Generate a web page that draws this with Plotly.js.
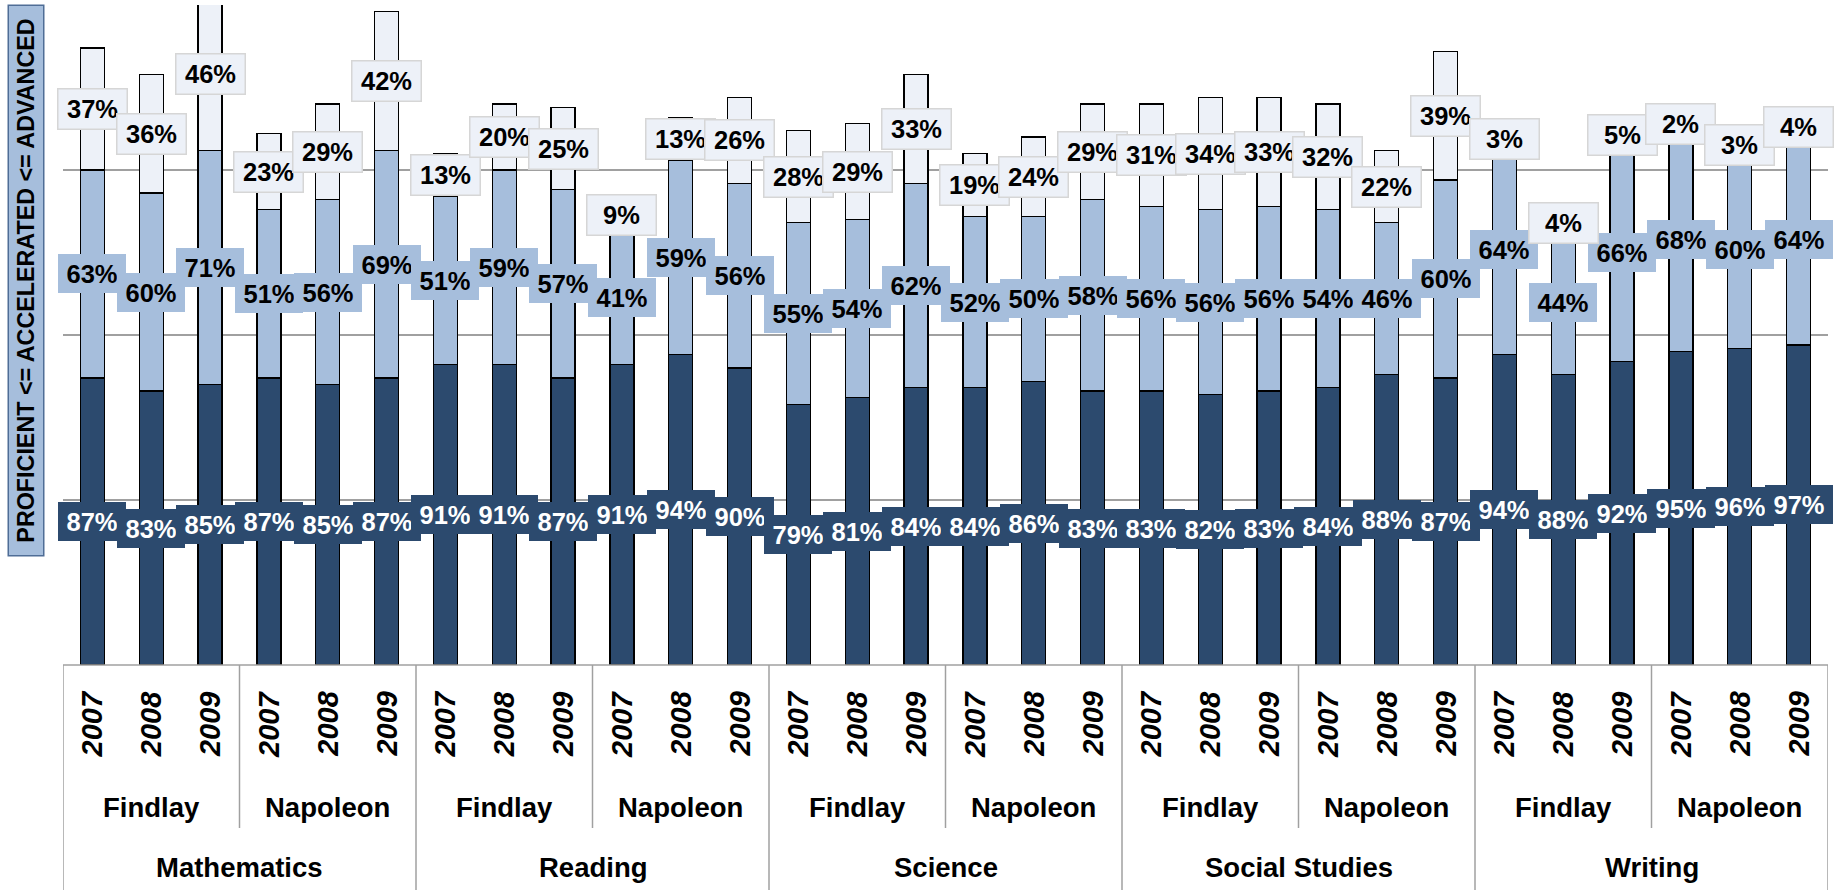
<!DOCTYPE html>
<html>
<head>
<meta charset="utf-8">
<script src="https://cdn.plot.ly/plotly-3.0.1.min.js"></script>
<style>html,body{margin:0;padding:0;background:#fff;}#chart{width:1837px;height:890px;}</style>
</head>
<body>
<div id="chart"></div>
<script>
const subjects = ['Mathematics', 'Reading', 'Science', 'Social Studies', 'Writing'];
const schools = ['Findlay', 'Napoleon'];
const years = ['2007', '2008', '2009'];
const proficient = [87,83,85,87,85,87, 91,91,87,91,94,90, 79,81,84,84,86,83, 83,82,83,84,88,87, 94,88,92,95,96,97];
const accelerated = [63,60,71,51,56,69, 51,59,57,41,59,56, 55,54,62,52,50,58, 56,56,56,54,46,60, 64,44,66,68,60,64];
const advanced = [37,36,46,23,29,42, 13,20,25,9,13,26, 28,29,33,19,24,29, 31,34,33,32,22,39, 3,4,5,2,3,4];
const yTitle = 'PROFICIENT <= ACCELERATED <= ADVANCED';

const FONT = 'Liberation Sans, Arial, sans-serif';
const C_DARK = '#2c4a6e', C_MID = '#a6bedc', C_LIGHT = '#edf1f8';

// geometry helpers (pixel -> paper)
const PL = 63, PR = 1828, PT = 5, PB = 665;
const pyp = px => (PB - px) / (PB - PT);
const pxp = px => (px - PL) / (PR - PL);

const xs = [];
const yearTxt = [];
subjects.forEach((s, si) => schools.forEach((sc, ki) => years.forEach((y, yi) => {
  xs.push(xs.length);
  yearTxt.push(y);
})));

const barCommon = {type: 'bar', x: xs, width: 0.41, hoverinfo: 'skip'};
const traces = [
  Object.assign({}, barCommon, {y: proficient, name: 'Proficient', marker: {color: C_DARK, line: {color: '#000', width: 1.3}}}),
  Object.assign({}, barCommon, {y: accelerated, name: 'Accelerated', marker: {color: C_MID, line: {color: '#000', width: 1.3}}}),
  Object.assign({}, barCommon, {y: advanced, name: 'Advanced', marker: {color: C_LIGHT, line: {color: '#000', width: 1.3}}})
];

const ann = [];
function pctLabel(i, yc, txt, bg, col, border) {
  ann.push({
    x: i, y: yc, xref: 'x', yref: 'y', showarrow: false,
    text: '<b>' + txt + '%</b>',
    font: {family: FONT, size: 25.5, color: col},
    bgcolor: bg, width: 68, height: 39, borderpad: 0,
    bordercolor: border || 'rgba(0,0,0,0)', borderwidth: border ? 1.5 : 0,
    xanchor: 'center', yanchor: 'middle'
  });
}
xs.forEach(i => pctLabel(i, proficient[i] / 2, proficient[i], C_DARK, '#fff'));
xs.forEach(i => pctLabel(i, proficient[i] + accelerated[i] / 2, accelerated[i], C_MID, '#000'));
xs.forEach(i => pctLabel(i, proficient[i] + accelerated[i] + advanced[i] / 2, advanced[i], C_LIGHT, '#000', '#d6d6d6'));

// category labels
xs.forEach(i => ann.push({
  x: i, y: pyp(724), xref: 'x', yref: 'paper', showarrow: false, textangle: -90,
  text: '<b><i>' + yearTxt[i] + '</i></b>', font: {family: FONT, size: 29, color: '#000'},
  xanchor: 'center', yanchor: 'middle'
}));
const shapes = [];
const gray = '#a0a0a0';
shapes.push({type: 'line', xref: 'x', yref: 'paper', x0: -0.5, x1: xs.length - 0.5, y0: 0, y1: 0, line: {color: gray, width: 1.5}});
subjects.forEach((s, si) => {
  const base = si * schools.length * years.length;
  ann.push({
    x: base + (schools.length * years.length - 1) / 2, y: pyp(867), xref: 'x', yref: 'paper', showarrow: false,
    text: '<b>' + s + '</b>', font: {family: FONT, size: 27.5, color: '#000'}, xanchor: 'center', yanchor: 'middle'
  });
  schools.forEach((sc, ki) => {
    const b = base + ki * years.length;
    ann.push({
      x: b + (years.length - 1) / 2, y: pyp(807), xref: 'x', yref: 'paper', showarrow: false,
      text: '<b>' + sc + '</b>', font: {family: FONT, size: 27.5, color: '#000'}, xanchor: 'center', yanchor: 'middle'
    });
    if (ki > 0) shapes.push({type: 'line', xref: 'x', yref: 'paper', x0: b - 0.5, x1: b - 0.5, y0: 0, y1: pyp(828), line: {color: gray, width: 1.5}});
  });
  shapes.push({type: 'line', xref: 'x', yref: 'paper', x0: base - 0.5, x1: base - 0.5, y0: 0, y1: pyp(895), line: {color: gray, width: 1.5}});
});
shapes.push({type: 'line', xref: 'x', yref: 'paper', x0: xs.length - 0.5, x1: xs.length - 0.5, y0: 0, y1: pyp(895), line: {color: gray, width: 1.5}});

// y title box
ann.push({
  x: pxp(26), y: pyp(280.5), xref: 'paper', yref: 'paper', showarrow: false, textangle: -90,
  text: '<b>' + yTitle + '</b>', font: {family: FONT, size: 23.3, color: '#000'},
  bgcolor: '#a6bedc', bordercolor: '#4f6d96', borderwidth: 1.5, borderpad: 0,
  width: 549, height: 34, xanchor: 'center', yanchor: 'middle'
});

const layout = {
  width: 1837, height: 890,
  margin: {l: PL, r: 1837 - PR, t: PT, b: 890 - PB},
  paper_bgcolor: '#fff', plot_bgcolor: '#fff',
  barmode: 'stack', showlegend: false,
  xaxis: {range: [-0.5, xs.length - 0.5], showticklabels: false, showgrid: false, zeroline: false, showline: false, ticks: ''},
  yaxis: {range: [0, 200], dtick: 50, showticklabels: false, showgrid: true, gridcolor: gray, gridwidth: 1.5, zeroline: false, showline: false, ticks: ''},
  annotations: ann, shapes: shapes
};
Plotly.newPlot('chart', traces, layout, {displayModeBar: false, staticPlot: true});
</script>
</body>
</html>
